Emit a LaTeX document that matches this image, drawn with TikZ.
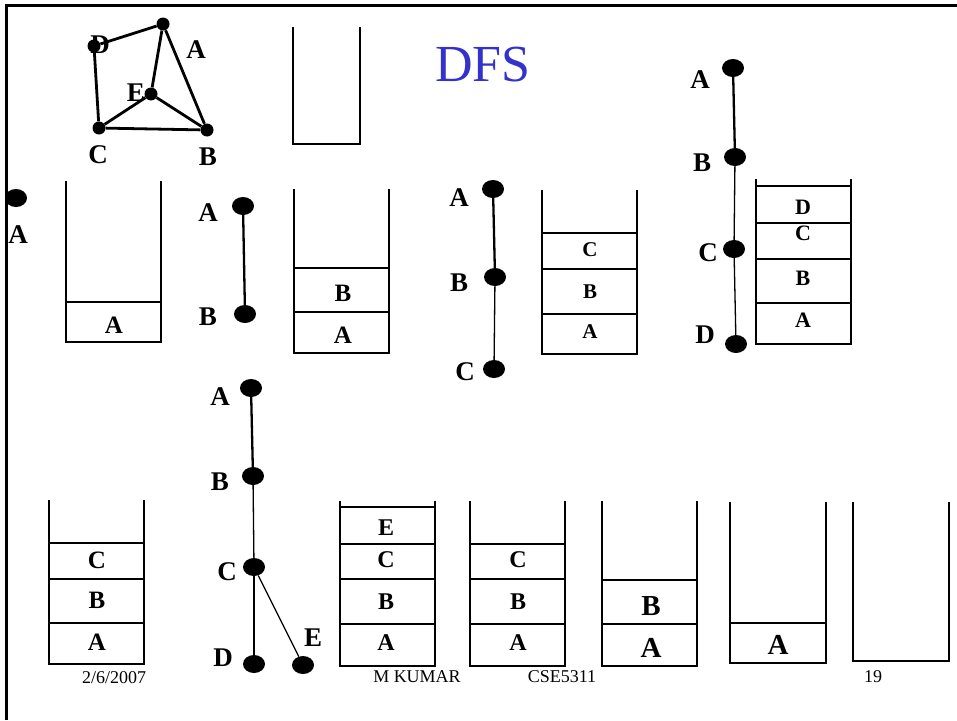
\documentclass[tikz,border=0pt]{standalone}
\usepackage{fontspec}
\setmainfont{Liberation Serif}
\usetikzlibrary{shapes.geometric}
\definecolor{dfsblue}{RGB}{51,51,204}
\begin{document}
\begin{tikzpicture}[x=1pt,y=-1pt,
  dot/.style={ellipse,fill=black,inner sep=0pt,minimum width=22pt,minimum height=18pt},
  gdot/.style={circle,fill=black,inner sep=0pt,minimum size=13pt},
  lbl/.style={font=\fontsize{27}{27}\selectfont\bfseries,inner sep=0pt},
  slbl/.style={font=\fontsize{#1}{#1}\selectfont\bfseries,inner sep=0pt},
  stk/.style={line width=2pt},
  gedge/.style={line width=2.8pt},
  tedge/.style={line width=2.3pt},
  tthin/.style={line width=1.3pt},
  foot/.style={font=\fontsize{18}{18}\selectfont,inner sep=0pt}]
\useasboundingbox (0,0) rectangle (957,720);
% frame
\draw[line width=3pt] (6,720) -- (6,5) -- (957,5);

% top-left graph
\node[gdot] (gA) at (163,24) {};
\node[gdot] (gD) at (94,46) {};
\node[gdot] (gE) at (151,94) {};
\node[gdot] (gC) at (99,128) {};
\node[gdot] (gB) at (207,130) {};
\draw[gedge] (gD) -- (gA);
\draw[gedge] (gD) -- (gC);
\draw[gedge] (gC) -- (gE);
\draw[gedge] (gE) -- (gA);
\draw[gedge] (gE) -- (gB);
\draw[gedge] (gC) -- (gB);
\draw[gedge] (gA) -- (gB);
\node[lbl] (glA) at (196,50) {A};
\node[lbl] (glD) at (100,45) {D};
\node[lbl] (glE) at (136,93) {E};
\node[lbl] (glC) at (98,155) {C};
\node[lbl] (glB) at (208,157) {B};

% empty stack and title
\draw[stk] (293,27) |- (360,144) -- (360,27);
\node[inner sep=0pt,text=dfsblue,font=\fontsize{52}{52}\selectfont] (title) at (483,65) {DFS};

% step 1: single vertex A
\node[dot] (t1A) at (16,198) {};
\node[lbl] (t1lA) at (18,235) {A};
\draw[stk] (66,181) |- (161,342) -- (161,181);
\draw[stk] (66,302) -- (161,302);
\node[slbl=25] (s1A) at (114,325) {A};

% step 2: A-B
\node[dot] (t2A) at (243,206) {};
\node[dot] (t2B) at (245,314) {};
\draw[tedge] (t2A) -- (t2B);
\node[lbl] (t2lA) at (208,213) {A};
\node[lbl] (t2lB) at (208,317) {B};
\draw[stk] (294,189) |- (389,353) -- (389,189);
\draw[stk] (294,268) -- (389,268);
\draw[stk] (294,312) -- (389,312);
\node[slbl=25] (s2B) at (343,293) {B};
\node[slbl=25] (s2A) at (343,335) {A};

% step 3: A-B-C
\node[dot] (t3A) at (493,189) {};
\node[dot] (t3B) at (495,277) {};
\node[dot] (t3C) at (494,369) {};
\draw[tedge] (t3A) -- (t3B);
\draw[tthin] (t3B) -- (t3C);
\node[lbl] (t3lA) at (459,198) {A};
\node[lbl] (t3lB) at (459,283) {B};
\node[lbl] (t3lC) at (465,372) {C};
\draw[stk] (542,190) |- (637,354) -- (637,190);
\draw[stk] (542,233) -- (637,233);
\draw[stk] (542,269) -- (637,269);
\draw[stk] (542,314) -- (637,314);
\node[slbl=21] (s3C) at (590,250) {C};
\node[slbl=21] (s3B) at (590,292) {B};
\node[slbl=21] (s3A) at (590,332) {A};

% step 4: A-B-C-D
\node[dot] (t4A) at (733,68) {};
\node[dot] (t4B) at (735,157) {};
\node[dot] (t4C) at (734,249) {};
\node[dot] (t4D) at (736,344) {};
\draw[tedge] (t4A) -- (t4B);
\draw[tthin] (t4B) -- (t4C);
\draw[tthin] (t4C) -- (t4D);
\node[lbl] (t4lA) at (700,80) {A};
\node[lbl] (t4lB) at (702,163) {B};
\node[lbl] (t4lC) at (708,253) {C};
\node[lbl] (t4lD) at (705,335) {D};
\draw[stk] (756,179) |- (851,344) -- (851,179);
\draw[stk] (756,186) -- (851,186);
\draw[stk] (756,223) -- (851,223);
\draw[stk] (756,259) -- (851,259);
\draw[stk] (756,303) -- (851,303);
\node[slbl=22] (s4D) at (803,207) {D};
\node[slbl=22] (s4C) at (803,233) {C};
\node[slbl=22] (s4B) at (803,278) {B};
\node[slbl=22] (s4A) at (803,320) {A};

% step 5: stack after popping D
\draw[stk] (49,500) |- (144,664) -- (144,500);
\draw[stk] (49,543) -- (144,543);
\draw[stk] (49,579) -- (144,579);
\draw[stk] (49,623) -- (144,623);
\node[slbl=25] (s5C) at (97,560) {C};
\node[slbl=25] (s5B) at (97,600) {B};
\node[slbl=25] (s5A) at (97,642) {A};

% final tree with E
\node[dot] (t5A) at (251,388) {};
\node[dot] (t5B) at (253,476) {};
\node[dot] (t5C) at (254,567) {};
\node[dot] (t5D) at (254,664) {};
\node[dot] (t5E) at (303,665) {};
\draw[tedge] (t5A) -- (t5B);
\draw[tthin] (t5B) -- (t5C);
\draw[tthin] (t5C) -- (t5D);
\draw[tthin] (t5C) -- (t5E);
\node[lbl] (t5lA) at (220,397) {A};
\node[lbl] (t5lB) at (220,482) {B};
\node[lbl] (t5lC) at (227,572) {C};
\node[lbl] (t5lD) at (223,658) {D};
\node[lbl] (t5lE) at (313,638) {E};

% stack with E
\draw[stk] (340,501) |- (435,666) -- (435,501);
\draw[stk] (340,507) -- (435,507);
\draw[stk] (340,544) -- (435,544);
\draw[stk] (340,579) -- (435,579);
\draw[stk] (340,624) -- (435,624);
\node[slbl=24] (s6E) at (386,528) {E};
\node[slbl=24] (s6C) at (386,560) {C};
\node[slbl=24] (s6B) at (386,602) {B};
\node[slbl=24] (s6A) at (386,643) {A};

% stack C B A
\draw[stk] (470,501) |- (565,666) -- (565,501);
\draw[stk] (470,544) -- (565,544);
\draw[stk] (470,579) -- (565,579);
\draw[stk] (470,624) -- (565,624);
\node[slbl=24] (s7C) at (518,560) {C};
\node[slbl=24] (s7B) at (518,602) {B};
\node[slbl=24] (s7A) at (518,643) {A};

% stack B A
\draw[stk] (602,501) |- (697,666) -- (697,501);
\draw[stk] (602,580) -- (697,580);
\draw[stk] (602,624) -- (697,624);
\node[slbl=29] (s8B) at (651,606) {B};
\node[slbl=29] (s8A) at (651,648) {A};

% stack A
\draw[stk] (730,502) |- (826,663) -- (826,502);
\draw[stk] (730,623) -- (826,623);
\node[slbl=29] (s9A) at (778,645) {A};

% empty stack
\draw[stk] (853,502) |- (949,661) -- (949,502);

% footer
\node[foot] (date) at (114,678) {2/6/2007};
\node[foot] (author) at (417,677) {M KUMAR};
\node[foot] (course) at (562,677) {CSE5311};
\node[foot] (page) at (873,677) {19};
\end{tikzpicture}
\end{document}
